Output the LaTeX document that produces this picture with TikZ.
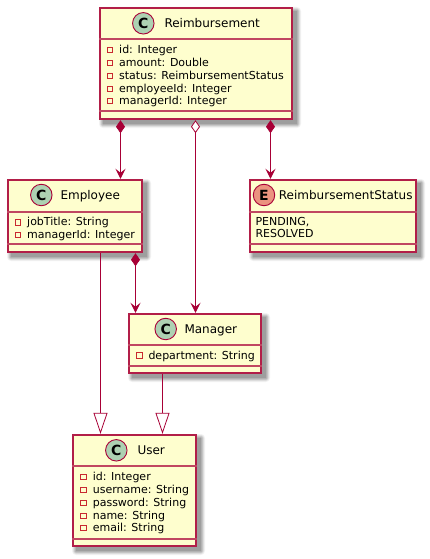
\documentclass[tikz,border=0pt]{standalone}
\usepackage{fontspec}
\setmainfont{DejaVu Sans}
\usetikzlibrary{arrows.meta,fit}
\definecolor{umlline}{HTML}{A80036}
\definecolor{umlfill}{HTML}{FEFECE}
\definecolor{umlgreen}{HTML}{ADD1B2}
\definecolor{umlsalmon}{HTML}{EB937F}
\definecolor{umlpriv}{HTML}{C82930}
\colorlet{umlborder}{umlline!88!umlfill}
\colorlet{umlrule}{umlline!72!umlfill}
\tikzset{
  umlbox/.style={fill=umlborder,inner sep=0pt},
  titletext/.style={anchor=base west,inner sep=0pt,font=\fontsize{12}{14}\selectfont,text=black},
  membertext/.style={anchor=base west,inner sep=0pt,font=\fontsize{11}{13}\selectfont,text=black},
  privmark/.style={draw=umlpriv,line width=.9pt,fill=umlfill,minimum size=5.4pt,inner sep=0pt,outer sep=0pt},
  spot/.style={circle,draw=umlline,line width=.9pt,minimum size=21.5pt,inner sep=0pt,text=black,font=\fontsize{14}{14}\selectfont\bfseries},
  conn/.style={draw=umlline,line width=1pt},
  comp/.style={conn,{Diamond[length=13pt,width=9pt,fill=umlline,line width=.8pt]}-{Stealth[length=10pt,width=10pt,inset=4pt,fill=umlline]}},
  aggr/.style={conn,{Diamond[length=13pt,width=9pt,fill=white,line width=.8pt]}-{Stealth[length=10pt,width=10pt,inset=4pt,fill=umlline]}},
  ext/.style={conn,-{Triangle[length=21pt,width=14pt,fill=white,line width=.8pt]}}
}
\newcommand{\softshadow}[4]{%
  \foreach \d/\o in {4/.05,3/.08,2/.10,1/.11,0/.11}{
    \fill[black,opacity=\o,rounded corners=\d pt]
      ({#1+4-\d},{#2+4-\d}) rectangle ({#3+4+\d},{#4+4+\d});
  }}
% name, x1, y1, x2, y2 (outer edges), top of divider 1, top of divider 2
\newcommand{\classbox}[7]{%
  \softshadow{#2}{#3}{#4}{#5}
  \node[umlbox,fit={(#2,#3)(#4,#5)}] (#1) {};
  \fill[umlfill] ({#2+2},{#3+2}) rectangle ({#4-2},{#5-2});
  \fill[umlrule] (#2,#6) rectangle (#4,{#6+2});
  \fill[umlrule] (#2,#7) rectangle (#4,{#7+2});}
\newcommand{\mline}[4]{% name, square x, centre y, text
  \node[privmark] (#1m) at ({#2+3},{#3+.6}) {};
  \node[membertext] (#1) at (#2+12,{#3+4}) {#4};}
\begin{document}
\begin{tikzpicture}[x=1pt,y=-1pt]
\useasboundingbox (0,0) rectangle (429,559);
\fill[white] (0,0) rectangle (429,559);
% boxes
\classbox{reimb}{99}{7}{293}{120}{38}{110}
\classbox{emp}{7}{179}{143}{253}{211}{243}
\classbox{status}{249}{179}{417}{253}{211}{243}
\classbox{mgr}{128}{313}{262}{374}{344}{365}
\classbox{user}{72}{434}{197}{547}{465}{538}
% titles
\node[spot,fill=umlgreen] (reimbspot) at (143.3,23.3) {C};
\node[titletext] (reimbtitle) at (164.3,27.6) {Reimbursement};
\node[spot,fill=umlgreen] (empspot) at (41.3,195) {C};
\node[titletext] (emptitle) at (60.3,199.3) {Employee};
\node[spot,fill=umlsalmon] (statusspot) at (264,195) {E};
\node[titletext] (statustitle) at (278.7,199.3) {ReimbursementStatus};
\node[spot,fill=umlgreen] (mgrspot) at (165.7,329) {C};
\node[titletext] (mgrtitle) at (184.3,333.3) {Manager};
\node[spot,fill=umlgreen] (userspot) at (116.3,450.3) {C};
\node[titletext] (usertitle) at (137.3,454.6) {User};
% members
\mline{ra}{107}{49.3}{id: Integer}
\mline{rb}{107}{62.3}{amount: Double}
\mline{rc}{107}{75.3}{status: ReimbursementStatus}
\mline{rd}{107}{88.3}{employeeId: Integer}
\mline{re}{107}{100.3}{managerId: Integer}
\mline{ea}{15}{221.7}{jobTitle: String}
\mline{eb}{15}{234.2}{managerId: Integer}
\mline{ma}{136.3}{355}{department: String}
\mline{ua}{80.6}{476.3}{id: Integer}
\mline{ub}{80.6}{489.3}{username: String}
\mline{uc}{80.6}{502.3}{password: String}
\mline{ud}{80.6}{515.3}{name: String}
\mline{ue}{80.6}{527.3}{email: String}
\node[membertext] (sa) at (255.3,225) {PENDING,};
\node[membertext] (sb) at (255.3,237.8) {RESOLVED};
% connectors
\draw[comp] (120.5,0 |- reimb.south) -- (120.5,0 |- emp.north);
\draw[aggr] (195.5,0 |- reimb.south) -- (195.5,0 |- mgr.north);
\draw[comp] (270.5,0 |- reimb.south) -- (270.5,0 |- status.north);
\draw[comp] (135.5,0 |- emp.south) -- (135.5,0 |- mgr.north);
\draw[ext] (100.5,0 |- emp.south) -- (100.5,0 |- user.north);
\draw[ext] (162.5,0 |- mgr.south) -- (162.5,0 |- user.north);
\end{tikzpicture}
\end{document}
